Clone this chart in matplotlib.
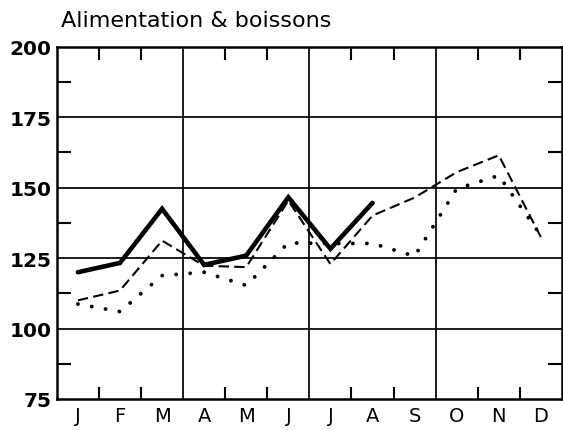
import matplotlib
matplotlib.use("Agg")
import matplotlib.pyplot as plt
import numpy as np

months = ["J", "F", "M", "A", "M", "J", "J", "A", "S", "O", "N", "D"]
solid_vals = [120, 123.3, 142.5, 122.6, 125.9, 146.6, 128.3, 144.6]
dashed_vals = [110, 113.5, 131.2, 122.3, 121.8, 145.4, 122.9, 140.1, 146.5, 155.5, 161.5, 132.5]
dotted_vals = [108.7, 106, 118.8, 120, 115.3, 130.4, 130.2, 130.2, 125.7, 149.6, 154.3, 133]
y_labels = [75, 100, 125, 150, 175, 200]
title = "Alimentation & boissons"

fig = plt.figure(figsize=(5.63, 4.31), dpi=100)
ax = fig.add_axes([0.101, 0.072, 0.897, 0.817])
ax.set_xlim(0, 12)
ax.set_ylim(75, 200)

# grid: horizontal major lines and quarter separators
for yv in y_labels[1:-1]:
    ax.axhline(yv, color="black", lw=1.25, zorder=1)
for xv in [3, 6, 9]:
    ax.axvline(xv, color="black", lw=1.25, zorder=1)

x_all = np.arange(len(months)) + 0.5
ax.plot(x_all[:len(solid_vals)], solid_vals, color="black", lw=3.3,
        solid_capstyle="round", solid_joinstyle="miter", zorder=3)
ax.plot(x_all, dashed_vals, color="black", lw=1.5, linestyle=(0, (5, 2.5)), zorder=3)
ax.plot(x_all, dotted_vals, color="black", lw=2.8, linestyle=(0, (0.01, 3.6)),
        dash_capstyle="round", zorder=3)

for s in ax.spines.values():
    s.set_linewidth(1.8)

# x ticks: month boundaries inward, labels at centers
ax.set_xticks([i for i in range(1, 12) if i % 3 != 0])
ax.set_xticks(x_all, minor=True)
ax.set_xticklabels([])
ax.set_xticklabels(months, minor=True, fontsize=14)
ax.tick_params(axis="x", which="major", direction="in", length=9, width=1.5,
               top=True, bottom=True)
ax.tick_params(axis="x", which="minor", length=0, pad=5)

ax.set_yticks(y_labels)
ax.set_yticklabels([str(v) for v in y_labels], fontsize=14.5, fontweight="bold")
ax.set_yticks([87.5, 112.5, 137.5, 162.5, 187.5], minor=True)
ax.tick_params(axis="y", which="major", length=0, pad=4)
ax.tick_params(axis="y", which="minor", direction="in", length=10, width=1.5,
               left=True, right=True)

fig.text(0.108, 0.937, title, fontsize=16, ha="left", va="baseline")

fig.savefig("out.png", dpi=100)
